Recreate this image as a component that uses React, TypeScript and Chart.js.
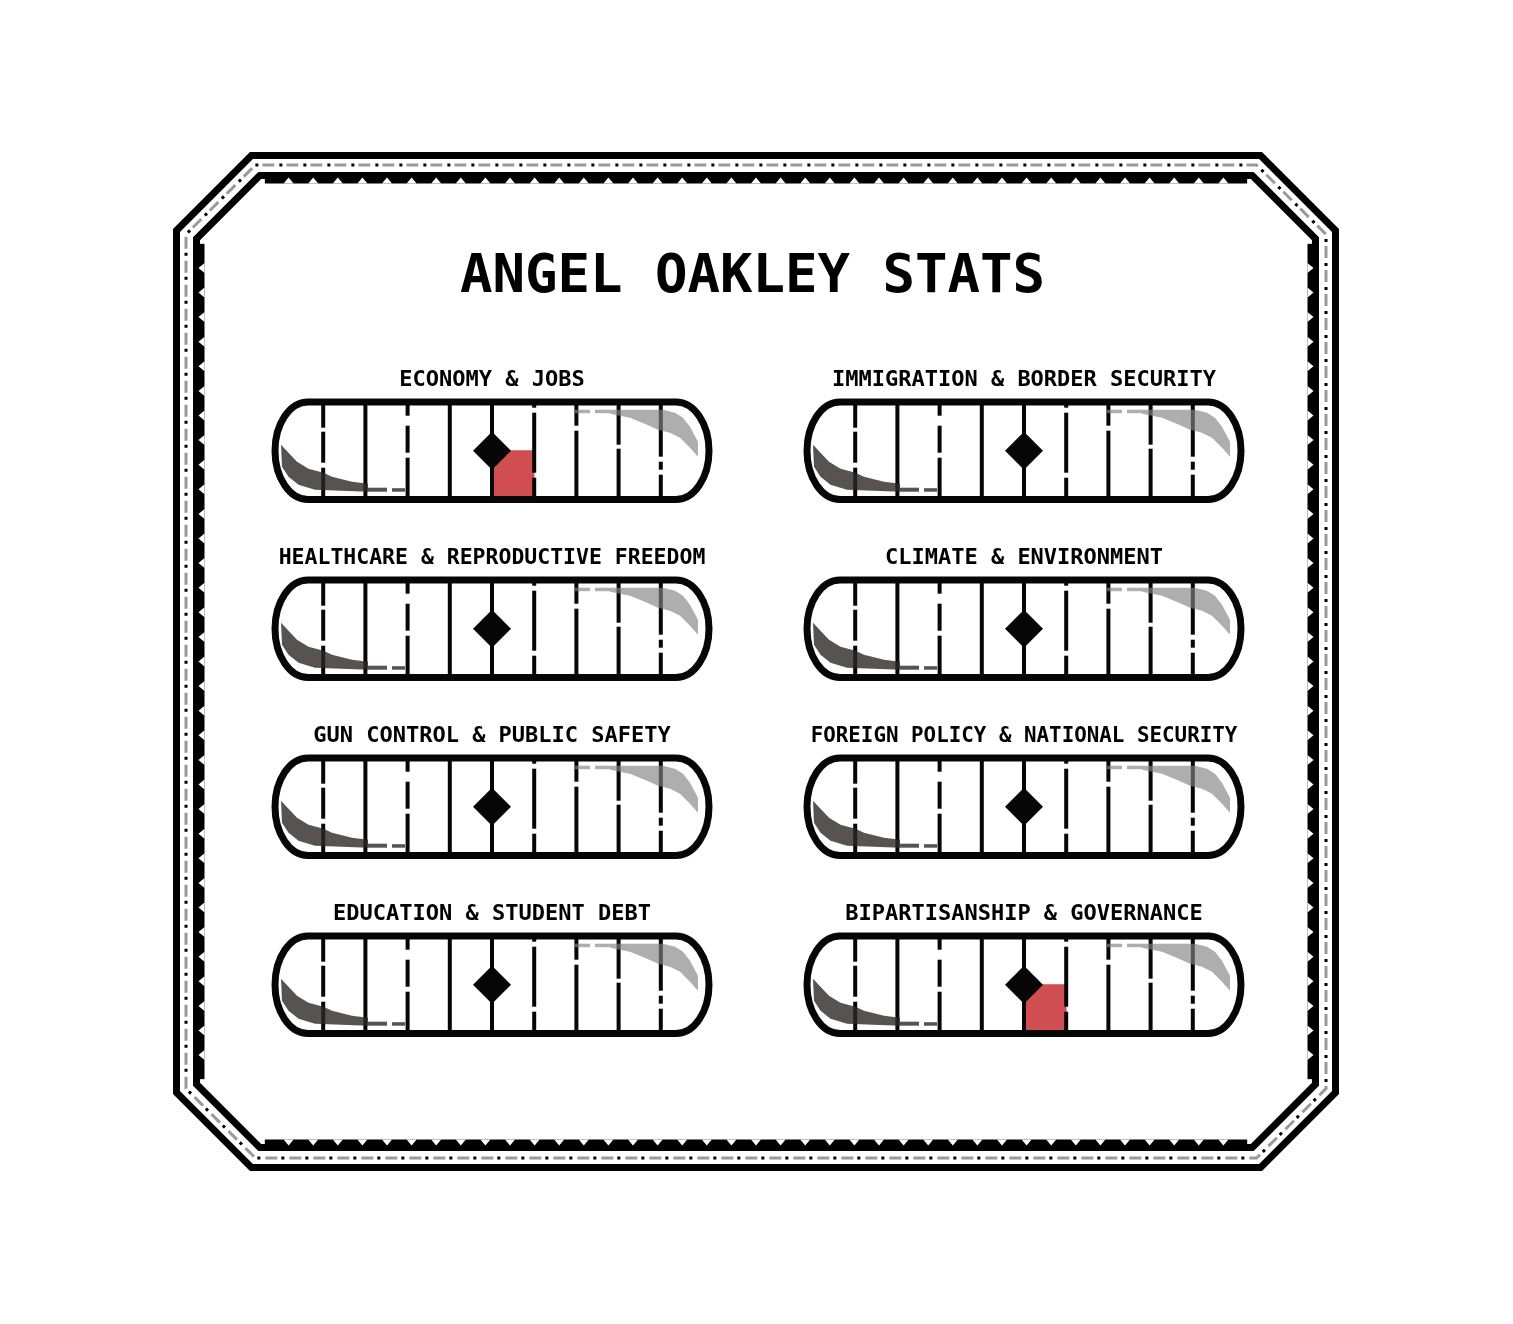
import React, { useEffect, useRef } from 'react';
import { Chart, registerables } from 'chart.js';

Chart.register(...registerables);

// ---------- data ----------
const chartTitle = 'ANGEL OAKLEY STATS';
const categories = [
  'ECONOMY & JOBS',
  'IMMIGRATION & BORDER SECURITY',
  'HEALTHCARE & REPRODUCTIVE FREEDOM',
  'CLIMATE & ENVIRONMENT',
  'GUN CONTROL & PUBLIC SAFETY',
  'FOREIGN POLICY & NATIONAL SECURITY',
  'EDUCATION & STUDENT DEBT',
  'BIPARTISANSHIP & GOVERNANCE',
];
const stancePositions = [0, 0, 0, 0, 0, 0, 0, 0];
const shiftRanges: ([number, number] | null)[] = [[0, 1], null, null, null, null, null, null, [0, 1]];
const scaleMin = -5;
const scaleMax = 5;
const tickValues = [-4, -3, -2, -1, 0, 1, 2, 3, 4];

// ---------- styles / layout ----------
const FONT = "'DejaVu Sans Mono', monospace";
const INK = '#060606';
const RED = '#d04d52';
const COL_X = [491.8, 1024];
const ROW_Y = [451, 629, 807, 985];
const G_W = 460;
const G_H = 160;

// gaps (px offsets from the gauge middle) in each vertical divider
const GRID_GAPS: [number, number][][] = [
  [[-23, -19], [12, 17]],
  [],
  [[-35, -25], [2, 7]],
  [],
  [],
  [[-43, -38], [22, 27]],
  [[-25, -20]],
  [[-6, -2]],
  [[6, 11], [19, 24]],
];
const DARK_SWOOSH = [[-211, -6], [-203.5, 2], [-195, 11], [-183.5, 18], [-168.5, 22], [-160, 26], [-140, 31], [-124, 33], [-124, 41], [-177, 39], [-193.5, 34], [-203.5, 26], [-210, 16]];
const DARK_TAIL = [[-124, 37, 19, 4], [-100, 37.5, 13, 3.5]];
const LIGHT_SWOOSH = [[118, -41], [171, -41], [183, -38], [191, -33], [198, -24], [206, -9], [206, 6], [198, -3], [188, -13], [178, -18], [166, -21], [155, -26], [138, -33], [118, -37]];
const LIGHT_TAIL = [[83, -41, 15, 3.5], [103, -41, 15, 3.5]];

const gaugePlugin = {
  id: 'gaugeDecor',
  afterDatasetDraw(chart: any, args: any) {
    if (args.meta.type !== 'bar') return;
    const ctx = chart.ctx;
    const xs = chart.scales.x;
    const ys = chart.scales.y;
    const cx = xs.getPixelForValue(0);
    const cy = ys.getPixelForValue(0);
    ctx.save();
    ctx.fillStyle = INK;
    tickValues.forEach((t, i) => {
      const px = xs.getPixelForValue(t);
      let y0 = -49;
      const gaps = GRID_GAPS[i] || [];
      const segs: [number, number][] = [];
      gaps.forEach(([a, b]) => { segs.push([y0, a]); y0 = b; });
      segs.push([y0, 49]);
      segs.forEach(([a, b]) => ctx.fillRect(px - 2, cy + a, 4, b - a));
    });
    const poly = (pts: number[][], color: string) => {
      ctx.beginPath();
      pts.forEach(([x, y], k) => (k ? ctx.lineTo(cx + x, cy + y) : ctx.moveTo(cx + x, cy + y)));
      ctx.closePath();
      ctx.fillStyle = color;
      ctx.fill();
    };
    const dark = 'rgba(45,40,40,0.8)';
    const light = 'rgba(130,130,130,0.65)';
    poly(DARK_SWOOSH, dark);
    DARK_TAIL.forEach(([x, y, w, h]) => { ctx.fillStyle = dark; ctx.fillRect(cx + x, cy + y, w, h); });
    poly(LIGHT_SWOOSH, light);
    LIGHT_TAIL.forEach(([x, y, w, h]) => { ctx.fillStyle = light; ctx.fillRect(cx + x, cy + y, w, h); });
    ctx.restore();
  },
  afterDraw(chart: any) {
    const ctx = chart.ctx;
    const ca = chart.chartArea;
    const cx = chart.scales.x.getPixelForValue(0);
    const top = ca.top - 3.5;
    const bot = ca.bottom + 3.5;
    const midY = (top + bot) / 2;
    const ry = (bot - top) / 2;
    const sL = cx - 184;
    const sR = cx + 184;
    const rx = 33;
    ctx.save();
    ctx.beginPath();
    ctx.moveTo(sL, top);
    ctx.lineTo(sR, top);
    ctx.ellipse(sR, midY, rx, ry, 0, -Math.PI / 2, Math.PI / 2);
    ctx.lineTo(sL, bot);
    ctx.ellipse(sL, midY, rx, ry, 0, Math.PI / 2, (3 * Math.PI) / 2);
    ctx.closePath();
    ctx.lineWidth = 7;
    ctx.strokeStyle = INK;
    ctx.stroke();
    ctx.restore();
  },
};

const FR = { L: 173, R: 1339, T: 152, B: 1171, C: 77 };
function octagon(ctx: CanvasRenderingContext2D, d: number) {
  const L = FR.L + d, R = FR.R - d, T = FR.T + d, B = FR.B - d;
  const c = FR.C - 0.586 * d;
  ctx.moveTo(L + c, T);
  ctx.lineTo(R - c, T);
  ctx.lineTo(R, T + c);
  ctx.lineTo(R, B - c);
  ctx.lineTo(R - c, B);
  ctx.lineTo(L + c, B);
  ctx.lineTo(L, B - c);
  ctx.lineTo(L, T + c);
  ctx.closePath();
}

const framePlugin = {
  id: 'frame',
  beforeDraw(chart: any) {
    const ctx: CanvasRenderingContext2D = chart.ctx;
    ctx.save();
    ctx.beginPath();
    octagon(ctx, 3.5);
    ctx.lineWidth = 7;
    ctx.strokeStyle = '#000';
    ctx.stroke();
    ctx.lineWidth = 3;
    ctx.beginPath();
    octagon(ctx, 13);
    ctx.setLineDash([12, 12]);
    ctx.lineDashOffset = -7;
    ctx.strokeStyle = '#9a9a9a';
    ctx.stroke();
    ctx.beginPath();
    octagon(ctx, 13);
    ctx.setLineDash([3, 21]);
    ctx.lineDashOffset = 0;
    ctx.strokeStyle = '#000';
    ctx.stroke();
    ctx.setLineDash([]);
    ctx.beginPath();
    octagon(ctx, 20);
    octagon(ctx, 27);
    ctx.fillStyle = '#000';
    ctx.fill('evenodd');
    // scalloped inner edge along straight sides
    const c31 = FR.C - 0.586 * 31;
    const cxm = (FR.L + FR.R) / 2;
    const cym = (FR.T + FR.B) / 2;
    const step = 24.6;
    const xMin = FR.L + 31 + c31 + 2, xMax = FR.R - 31 - c31 - 2;
    const yMin = FR.T + 31 + c31 + 2, yMax = FR.B - 31 - c31 - 2;
    ctx.fillStyle = '#000';
    ctx.fillRect(xMin, FR.T + 26.5, xMax - xMin, 5);
    ctx.fillRect(xMin, FR.B - 31.5, xMax - xMin, 5);
    ctx.fillRect(FR.L + 26.5, yMin, 5, yMax - yMin);
    ctx.fillRect(FR.R - 31.5, yMin, 5, yMax - yMin);
    ctx.fillStyle = '#fff';
    const tri = (ax: number, ay: number, b1x: number, b1y: number, b2x: number, b2y: number) => {
      ctx.beginPath();
      ctx.moveTo(ax, ay);
      ctx.lineTo(b1x, b1y);
      ctx.lineTo(b2x, b2y);
      ctx.closePath();
      ctx.fill();
    };
    for (let k = -60; k <= 60; k++) {
      const x = cxm + k * step;
      if (x < xMin + 4 || x > xMax - 4) continue;
      tri(x, FR.T + 25.5, x - 5, FR.T + 31.5, x + 5, FR.T + 31.5);
      tri(x, FR.B - 25.5, x - 5, FR.B - 31.5, x + 5, FR.B - 31.5);
    }
    for (let k = -60; k <= 60; k++) {
      const y = cym + k * step;
      if (y < yMin + 4 || y > yMax - 4) continue;
      tri(FR.L + 25.5, y, FR.L + 31.5, y - 5, FR.L + 31.5, y + 5);
      tri(FR.R - 25.5, y, FR.R - 31.5, y - 5, FR.R - 31.5, y + 5);
    }
    ctx.restore();
  },
};

function Background() {
  const ref = useRef<HTMLCanvasElement>(null);
  useEffect(() => {
    const chart = new Chart(ref.current!, {
      type: 'scatter',
      data: { datasets: [] },
      options: {
        responsive: false,
        animation: false,
        events: [],
        layout: { padding: { right: 8 } },
        scales: { x: { display: false }, y: { display: false } },
        plugins: {
          legend: { display: false },
          tooltip: { enabled: false },
          title: {
            display: true,
            text: chartTitle,
            color: '#000',
            font: { family: FONT, size: 54, weight: 'bold', lineHeight: 1.2 },
            padding: { top: 246, bottom: 0 },
          },
        },
      },
      plugins: [framePlugin],
    } as any);
    return () => chart.destroy();
  }, []);
  return <canvas ref={ref} width={1513} height={1324} style={{ position: 'absolute', left: 0, top: 0 }} />;
}

function Gauge({ index }: { index: number }) {
  const ref = useRef<HTMLCanvasElement>(null);
  useEffect(() => {
    const range = shiftRanges[index];
    const chart = new Chart(ref.current!, {
      type: 'bar',
      data: {
        datasets: [
          {
            type: 'scatter',
            label: 'Stance',
            data: [{ x: stancePositions[index], y: 0 }],
            pointStyle: 'rectRot',
            pointRadius: 19,
            pointBackgroundColor: INK,
            pointBorderWidth: 0,
            order: 0,
          },
          {
            type: 'bar',
            label: 'Shift',
            indexAxis: 'y',
            data: range ? [{ x: range, y: -0.5 }] : [],
            backgroundColor: RED,
            borderWidth: 0,
            barPercentage: 1,
            categoryPercentage: 1,
            order: 1,
          },
        ],
      },
      options: {
        responsive: false,
        animation: false,
        events: [],
        layout: { padding: { left: 16.67, right: 16.67, top: 0, bottom: 18.5 } },
        scales: {
          x: { type: 'linear', min: scaleMin, max: scaleMax, offset: false, display: false, grid: { offset: false }, ticks: { stepSize: 1 } },
          y: { type: 'linear', min: -1, max: 1, offset: false, display: false, grid: { offset: false }, ticks: { stepSize: 1 } },
        },
        plugins: {
          legend: { display: false },
          tooltip: { enabled: false },
          title: {
            display: true,
            text: categories[index],
            color: '#000',
            font: { family: FONT, size: 22, weight: 'bold', lineHeight: 1.2 },
            padding: { top: 12, bottom: 12 },
          },
        },
      },
      plugins: [gaugePlugin],
    } as any);
    return () => chart.destroy();
  }, [index]);
  const col = index % 2;
  const row = Math.floor(index / 2);
  return (
    <canvas
      ref={ref}
      width={G_W}
      height={G_H}
      style={{ position: 'absolute', left: COL_X[col] - G_W / 2, top: ROW_Y[row] - 96 }}
    />
  );
}

export default function App() {
  return (
    <div style={{ position: 'absolute', left: 0, top: 0, width: 1513, height: 1324, background: '#fff' }}>
      <Background />
      {categories.map((_, i) => (
        <Gauge key={i} index={i} />
      ))}
    </div>
  );
}
